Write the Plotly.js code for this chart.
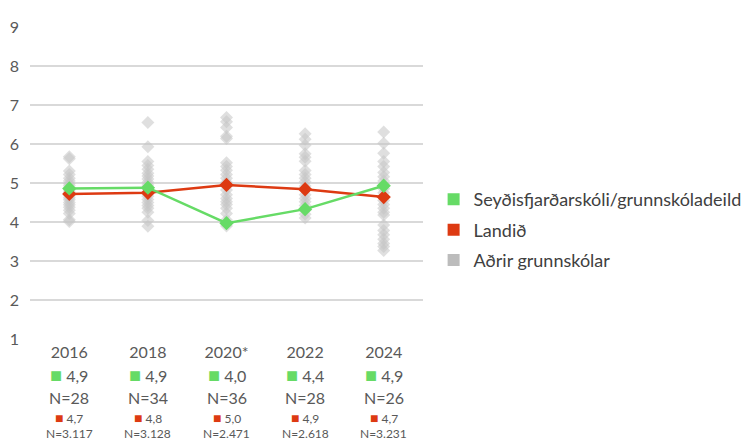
<!DOCTYPE html>
<html>
<head>
<meta charset="utf-8">
<script src="https://cdn.plot.ly/plotly-3.0.1.min.js"></script>
<style>
  html, body { margin: 0; padding: 0; background: #fff; }
  #chart { width: 748px; height: 441px; }
</style>
</head>
<body>
<div id="chart"></div>
<script>
// chart data
var years = ['2016', '2018', '2020*', '2022', '2024'];
var schoolValues = [4.86, 4.88, 3.97, 4.33, 4.93];
var countryValues = [4.72, 4.75, 4.95, 4.84, 4.64];
var schoolLabels = ['4,9', '4,9', '4,0', '4,4', '4,9'];
var schoolN = ['28', '34', '36', '28', '26'];
var countryLabels = ['4,7', '4,8', '5,0', '4,9', '4,7'];
var countryN = ['3.117', '3.128', '2.471', '2.618', '3.231'];

// other schools, one list per year
var others2016 = [5.67, 5.62, 5.31, 5.22, 5.12, 5.05, 4.98, 4.93, 4.82, 4.77, 4.68, 4.62, 4.57, 4.5, 4.44, 4.38, 4.3, 4.22, 4.06, 4.01];
var others2018 = [6.55, 5.93, 5.55, 5.45, 5.35, 5.25, 5.18, 5.1, 5.02, 4.95, 4.85, 4.72, 4.66, 4.58, 4.5, 4.42, 4.35, 4.25, 4.04, 3.89];
var others2020 = [6.68, 6.57, 6.42, 6.2, 6.14, 5.52, 5.42, 5.33, 5.22, 5.12, 5.02, 4.92, 4.82, 4.7, 4.6, 4.52, 4.45, 4.35, 4.22, 4.05, 3.9];
var others2022 = [6.26, 6.12, 5.97, 5.75, 5.66, 5.56, 5.32, 5.22, 5.12, 5.03, 4.92, 4.82, 4.7, 4.6, 4.52, 4.42, 4.3, 4.2, 4.1];
var others2024 = [6.31, 6.02, 5.76, 5.55, 5.42, 5.27, 5.16, 5.05, 4.93, 4.85, 4.75, 4.64, 4.55, 4.45, 4.35, 4.25, 4.18, 3.92, 3.78, 3.67, 3.56, 3.45, 3.37, 3.27];

var green = '#66db66';
var red = '#dd3a12';
var grey = '#c4c4c4';
var textColor = '#595959';

var othersByYear = [others2016, others2018, others2020, others2022, others2024];
var othersX = [], othersY = [];
othersByYear.forEach(function(vals, i) {
	vals.forEach(function(v) { othersX.push(years[i]); othersY.push(v); });
});

var others = {
	x: othersX,
	y: othersY,
	mode: 'markers',
	type: 'scatter',
	marker: {symbol: 'diamond', size: 10, color: grey, opacity: 0.55},
	showlegend: false,
	hoverinfo: 'y'
};

var country = {
	x: years,
	y: countryValues,
	mode: 'lines+markers',
	type: 'scatter',
	line: {color: red, width: 2.5},
	marker: {symbol: 'diamond', size: 11, color: red},
	showlegend: false
};

var school = {
	x: years,
	y: schoolValues,
	mode: 'lines+markers',
	type: 'scatter',
	line: {color: green, width: 2.5},
	marker: {symbol: 'diamond', size: 11, color: green},
	showlegend: false
};

// legend-only entries with square swatches
function legendEntry(name, color, group) {
	return {
		x: [null], y: [null],
		mode: 'markers', type: 'scatter',
		name: name,
		legendgroup: group,
		marker: {symbol: 'square', size: 12, color: color},
		showlegend: true
	};
}

// rows of text under each year (x is the category index)
var annotations = [];
years.forEach(function(yr, i) {
	annotations.push({
		x: i, y: 0, xref: 'x', yref: 'paper', yshift: -35, yanchor: 'middle',
		text: '<span style="color:' + green + ';font-size:20px">■</span> ' + schoolLabels[i],
		showarrow: false, font: {size: 16, color: textColor}
	});
	annotations.push({
		x: i, y: 0, xref: 'x', yref: 'paper', yshift: -58, yanchor: 'middle',
		text: 'N=' + schoolN[i],
		showarrow: false, font: {size: 16, color: textColor}
	});
	annotations.push({
		x: i, y: 0, xref: 'x', yref: 'paper', yshift: -78, yanchor: 'middle',
		text: '<span style="color:' + red + ';font-size:14px">■</span> ' + countryLabels[i],
		showarrow: false, font: {size: 12, color: textColor}
	});
	annotations.push({
		x: i, y: 0, xref: 'x', yref: 'paper', yshift: -94, yanchor: 'middle',
		text: 'N=' + countryN[i],
		showarrow: false, font: {size: 12, color: textColor}
	});
});

var layout = {
	width: 748,
	height: 441,
	font: {family: 'Lato, "Open Sans", sans-serif', color: textColor},
	paper_bgcolor: '#fff',
	plot_bgcolor: '#fff',
	margin: {l: 30, r: 325, t: 27, b: 102, pad: 0, autoexpand: false},
	xaxis: {
		type: 'category',
		range: [-0.5, 4.5],
		showgrid: false,
		zeroline: false,
		showline: false,
		ticks: '',
		tickfont: {size: 16, color: textColor},
		ticklabelstandoff: 2
	},
	yaxis: {
		range: [1, 9],
		dtick: 1,
		showgrid: true,
		gridcolor: '#d9d9d9',
		gridwidth: 1.5,
		zeroline: false,
		showline: false,
		ticks: '',
		tickfont: {size: 16, color: textColor},
		ticklabelstandoff: 10
	},
	showlegend: true,
	legend: {
		x: 1.027, xanchor: 'left',
		y: 0.349, yanchor: 'middle',
		font: {size: 18, color: '#404040'},
		tracegroupgap: 4,
		itemsizing: 'constant'
	},
	annotations: annotations,
	hovermode: 'closest'
};

Plotly.newPlot('chart', [others, country, school,
	legendEntry('Seyðisfjarðarskóli/grunnskóladeild', green, 'a'),
	legendEntry('Landið', red, 'b'),
	legendEntry('Aðrir grunnskólar', '#bcbcbc', 'c')],
	layout, {displayModeBar: false});
</script>
</body>
</html>
